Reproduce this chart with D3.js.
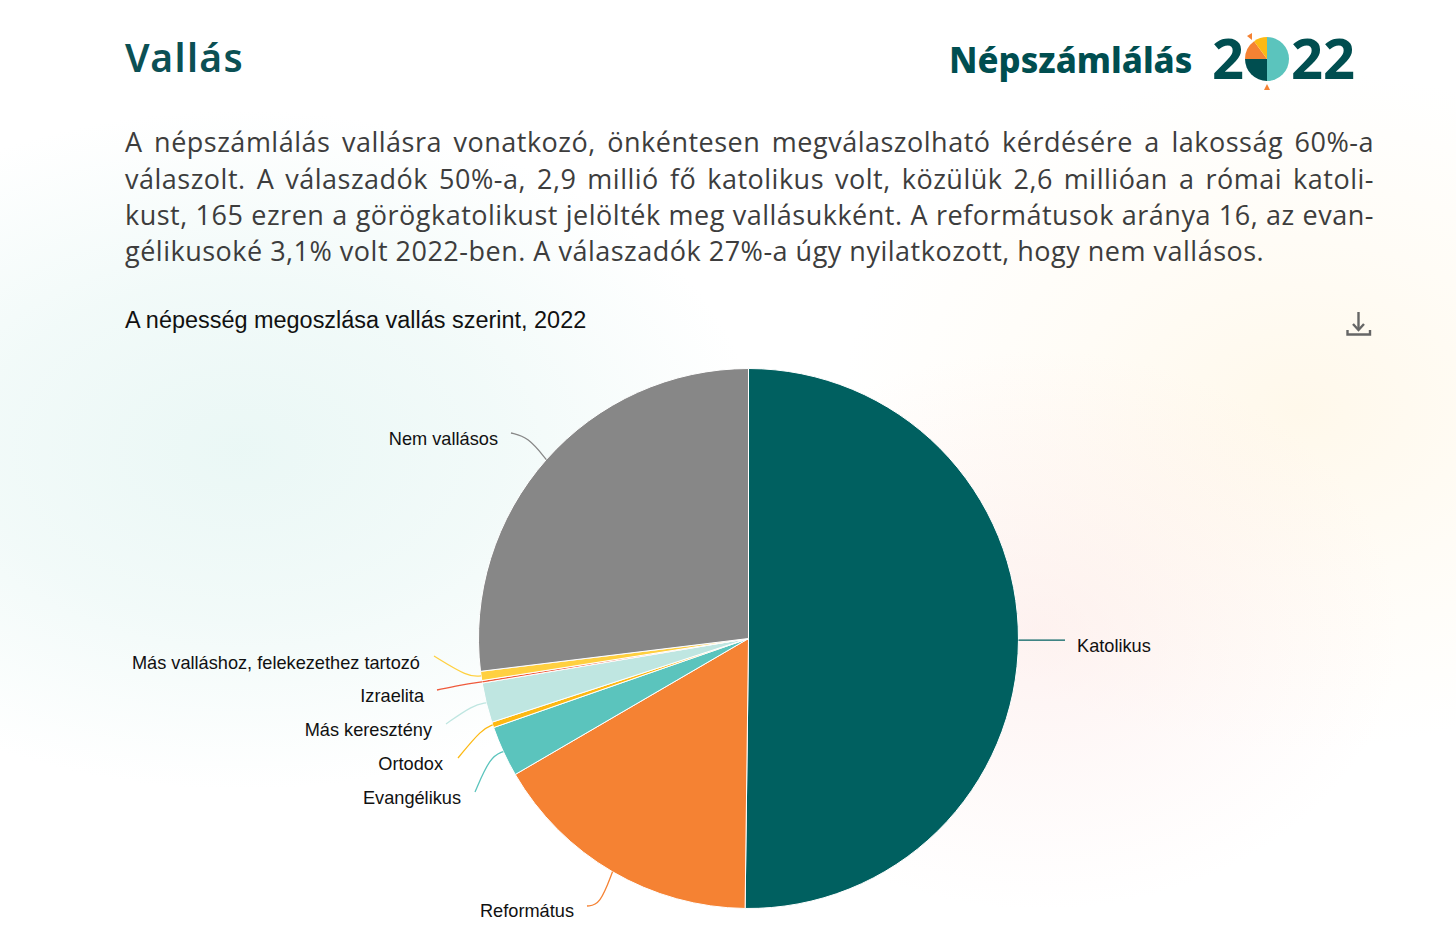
<!DOCTYPE html>
<html lang="hu">
<head>
<meta charset="utf-8">
<title>Vallás</title>
<script src="https://cdn.jsdelivr.net/npm/d3@7"></script>
<style>
    html, body { margin: 0; padding: 0; width: 1456px; height: 937px; overflow: hidden; background: #fff; }
    #bg { position: absolute; left: 0; top: 0; width: 1456px; height: 937px;
        background:
            radial-gradient(ellipse 520px 340px at 240px 450px, rgba(214,240,236,0.5), rgba(214,240,236,0.32) 50%, rgba(214,240,236,0) 100%),
            radial-gradient(ellipse 360px 280px at 1040px 630px, rgba(252,225,222,0.42), rgba(252,225,222,0.2) 50%, rgba(252,225,222,0) 100%),
            radial-gradient(ellipse 460px 340px at 1300px 410px, rgba(255,240,210,0.45), rgba(255,240,210,0.2) 50%, rgba(255,240,210,0) 100%),
            #fff; }
    #intro { position: absolute; left: 125px; top: 124.2px; width: 1249px; color: #3d3d3d;
        font: 400 27px/36.4px "Open Sans", sans-serif; letter-spacing: 0.5px; }
    #intro div { text-align: justify; text-align-last: justify; white-space: nowrap; }
    #intro div.last { text-align-last: left; }
    #chart { position: absolute; left: 0; top: 0; }
    .label { font: 18.2px "Liberation Sans", Arial, sans-serif; fill: #111; }
</style>
</head>
<body>
<div id="bg"></div>
<div id="intro"></div>
<svg id="chart"></svg>
<script>
// data (percent of respondents)
const categories = ["Katolikus", "Református", "Evangélikus", "Ortodox", "Más keresztény", "Izraelita", "Más valláshoz, felekezethez tartozó", "Nem vallásos"];
const shares = [50.2, 16.4, 3.05, 0.33, 2.38, 0.15, 0.55, 26.94];
const sliceColors = ["#006060", "#f58233", "#5bc4bd", "#fdb913", "#bfe6e1", "#ef5a3c", "#ffd040", "#878787"];

const introLines = [
    "A népszámlálás vallásra vonatkozó, önkéntesen megválaszolható kérdésére a lakosság 60%-a",
    "válaszolt. A válaszadók 50%-a, 2,9 millió fő katolikus volt, közülük 2,6 millióan a római katoli-",
    "kust, 165 ezren a görögkatolikust jelölték meg vallásukként. A reformátusok aránya 16, az evan-",
    "gélikusoké 3,1% volt 2022-ben. A válaszadók 27%-a úgy nyilatkozott, hogy nem vallásos."
];

// logo pie: quarter/half shares
const logoShares = [50, 25, 15, 10];
const logoColors = ["#5bc4bd", "#004e50", "#f58233", "#fdb913"];

class ReligionPie {

    constructor(_config) {
        this.config = {
            parentElement: _config.parentElement,
            containerWidth: 1456,
            containerHeight: 937,
            cx: 748.5,
            cy: 638.5,
            radius: 270
        };
        // where each label sits, and the bend of its leader (label end, bend)
        this.labelLayout = [
            { x: 1077, y: 646, anchor: "start", from: [1065, 640.2], bend: [1040, 640.2] },
            { x: 574, y: 911, anchor: "end", from: [587, 906], bend: [600, 905] },
            { x: 461, y: 798, anchor: "end", from: [475, 792], bend: [490, 757] },
            { x: 443, y: 764, anchor: "end", from: [458, 758], bend: [482, 729] },
            { x: 432, y: 730, anchor: "end", from: [446, 724], bend: [473, 705] },
            { x: 424, y: 696, anchor: "end", from: [437, 690], bend: [460, 685] },
            { x: 420, y: 663, anchor: "end", from: [434, 656], bend: [468, 677] },
            { x: 498, y: 439, anchor: "end", from: [511, 433], bend: [528, 437] }
        ];
        this.initVis();
    }

    initVis() {
        let vis = this;

        vis.svg = d3.select(vis.config.parentElement)
            .attr("width", vis.config.containerWidth)
            .attr("height", vis.config.containerHeight);

        vis.pie = d3.pie().sort(null).value(d => d);
        vis.arc = d3.arc().innerRadius(0).outerRadius(vis.config.radius);
        vis.edgeArc = d3.arc().innerRadius(vis.config.radius).outerRadius(vis.config.radius);

        vis.chart = vis.svg.append("g")
            .attr("transform", `translate(${vis.config.cx},${vis.config.cy})`);

        vis.renderHeader();
        vis.renderVis();
    }

    renderHeader() {
        let vis = this;

        vis.svg.append("text")
            .attr("x", 125).attr("y", 72)
            .style("font", '600 39px "Noto Sans", sans-serif')
            .style("letter-spacing", "1.4px")
            .attr("fill", "#0b5054")
            .text("Vallás");

        vis.svg.append("text")
            .attr("x", 949).attr("y", 73)
            .style("font", '800 34.7px "Noto Sans", sans-serif')
            .attr("fill", "#004e50")
            .text("Népszámlálás");

        vis.svg.append("text")
            .attr("x", 125).attr("y", 328)
            .style("font", '23.45px "Liberation Sans", Arial, sans-serif')
            .attr("fill", "#111")
            .text("A népesség megoszlása vallás szerint, 2022");

        // 2(pie)22
        const digit = (x, t) => vis.svg.append("text")
            .attr("x", x).attr("y", 79)
            .style("font", '700 56px "Noto Sans", sans-serif')
            .attr("fill", "#004e50")
            .text(t);
        digit(1212, "2");
        digit(1291, "22");

        const logoR = 22;
        const logo = vis.svg.append("g").attr("transform", "translate(1267,59)");
        logo.selectAll("path")
            .data(d3.pie().sort(null).value(d => d)(logoShares))
            .join("path")
            .attr("d", d3.arc().innerRadius(0).outerRadius(logoR))
            .attr("fill", (d, i) => logoColors[i]);
        vis.svg.append("path").attr("d", "M1267,84 L1270,90 L1264,90 Z").attr("fill", "#f58233");
        vis.svg.append("path").attr("d", "M1252,33 L1252,40 L1247,36 Z").attr("fill", "#f58233");

        // download icon
        const icon = vis.svg.append("g").attr("stroke", "#666").attr("fill", "none");
        icon.append("path").attr("d", "M1358.5,312 V329").attr("stroke-width", 2.4);
        icon.append("path").attr("d", "M1353,324 L1358.5,330 L1364,324").attr("stroke-width", 2.4);
        icon.append("path").attr("d", "M1347.5,330 V334.5 H1370 V330").attr("stroke-width", 2.4);
    }

    renderVis() {
        let vis = this;
        const arcs = vis.pie(shares);

        vis.chart.selectAll(".slice")
            .data(arcs)
            .join("path")
            .attr("class", "slice")
            .attr("d", vis.arc)
            .attr("fill", (d, i) => sliceColors[i])
            .attr("stroke", "#fff")
            .attr("stroke-width", 1);

        // leaders run from the label end to the slice edge
        const leader = d3.line().curve(d3.curveBasis);
        vis.chart.selectAll(".leader")
            .data(arcs)
            .join("path")
            .attr("class", "leader")
            .attr("fill", "none")
            .attr("stroke", (d, i) => sliceColors[i])
            .attr("stroke-width", 1.3)
            .attr("d", (d, i) => {
                const l = vis.labelLayout[i];
                const edge = vis.edgeArc.centroid(d);
                const toLocal = p => [p[0] - vis.config.cx, p[1] - vis.config.cy];
                const a = toLocal(l.from), b = toLocal(l.bend);
                return leader([a, a, b, edge, edge]);
            });

        vis.svg.selectAll(".label")
            .data(categories)
            .join("text")
            .attr("class", "label")
            .attr("x", (d, i) => vis.labelLayout[i].x)
            .attr("y", (d, i) => vis.labelLayout[i].y + 6)
            .attr("text-anchor", (d, i) => vis.labelLayout[i].anchor)
            .text(d => d);
    }
}

d3.select("#intro").selectAll("div")
    .data(introLines)
    .join("div")
    .attr("class", (d, i) => i === introLines.length - 1 ? "last" : null)
    .text(d => d);

new ReligionPie({ parentElement: "#chart" });
</script>
</body>
</html>
